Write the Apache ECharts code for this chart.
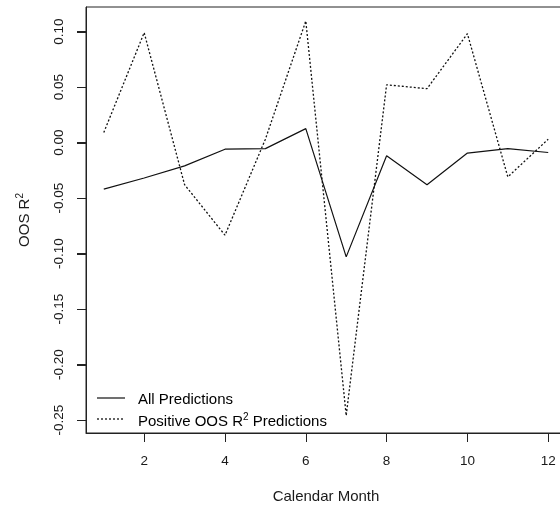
<!DOCTYPE html>
<html>
<head>
<meta charset="utf-8">
<script src="https://cdn.jsdelivr.net/npm/echarts@6/dist/echarts.min.js"></script>
<style>html,body{margin:0;padding:0;background:#fff;}#c{width:560px;height:508px;}</style>
</head>
<body>
<div id="c"></div>
<script>
const months = [1,2,3,4,5,6,7,8,9,10,11,12];
const allPred = [-0.042,-0.032,-0.021,-0.006,-0.0055,0.0125,-0.103,-0.012,-0.038,-0.0095,-0.0055,-0.009];
const posPred = [0.009,0.099,-0.038,-0.0835,0.003,0.1095,-0.246,0.052,0.0485,0.098,-0.031,0.003];
const xTicks = [2,4,6,8,10,12];
const yTicks = [-0.25,-0.20,-0.15,-0.10,-0.05,0.00,0.05,0.10];
const seriesNames = ['All Predictions', 'Positive OOS R2 Predictions'];

const font = 'Liberation Sans, Arial, sans-serif';
const txt = '#1a1a1a';
const rich = {
  sup: { fontSize: 10, verticalAlign: 'top', padding: [0,0,9,0], color: txt, fontFamily: font },
  n: { fontSize: 15, color: txt, fontFamily: font }
};

const chart = echarts.init(document.getElementById('c'), null, {renderer: 'canvas'});
chart.setOption({
  animation: false,
  backgroundColor: '#fff',
  grid: { left: 86, top: 7, width: 480, height: 426, containLabel: false, outerBoundsMode: 'none',
          show: true, borderColor: '#222', borderWidth: 1, backgroundColor: 'transparent' },
  xAxis: {
    type: 'value', min: 0.56, max: 12.44,
    name: 'Calendar Month', nameLocation: 'middle', nameGap: 56,
    nameTextStyle: { fontSize: 15, color: txt, fontFamily: font },
    axisLine: { show: true, onZero: false, lineStyle: {color: '#222', width: 1} },
    splitLine: { show: false },
    axisTick: { show: true, inside: false, length: 9, lineStyle: {color: '#222', width: 1}, customValues: xTicks },
    axisLabel: { fontSize: 13.5, color: txt, fontFamily: font, margin: 21, customValues: xTicks, formatter: v => String(v) }
  },
  yAxis: {
    type: 'value', min: -0.2617, max: 0.1221,
    name: '{n|OOS R}{sup|2}', nameLocation: 'middle', nameGap: 52, nameRotate: 90,
    nameTextStyle: { fontSize: 15, color: txt, fontFamily: font, rich: rich },
    axisLine: { show: true, onZero: false, lineStyle: {color: '#222', width: 1} },
    splitLine: { show: false },
    axisTick: { show: true, inside: false, length: 9, lineStyle: {color: '#222', width: 1}, customValues: yTicks },
    axisLabel: { fontSize: 13.5, color: txt, fontFamily: font, rotate: 90, margin: 20, customValues: yTicks, formatter: v => v.toFixed(2) }
  },
  series: [
    { name: seriesNames[0], type: 'line', data: months.map((m,i)=>[m, allPred[i]]), symbol: 'none',
      lineStyle: { color: '#111', width: 1.2, type: 'solid' } },
    { name: seriesNames[1], type: 'line', data: months.map((m,i)=>[m, posPred[i]]), symbol: 'none',
      lineStyle: { color: '#111', width: 1.3, type: [2,2] } },
    { name: 'yTickMarks', type: 'custom', clip: false, silent: true, z: 10,
      data: yTicks.map(v => [months[0], v]),
      renderItem: function (params, api) {
        const p = api.coord([api.value(0), api.value(1)]);
        const x0 = params.coordSys.x;
        const y = Math.round(p[1]) + 0.5;
        return { type: 'line', shape: {x1: x0 - 9, y1: y, x2: x0, y2: y}, style: {stroke: '#222', lineWidth: 1} };
      }
    }
  ],
  graphic: [
    { type: 'line', shape: {x1: 97, y1: 398, x2: 125, y2: 398}, style: {stroke: '#111', lineWidth: 1.2} },
    { type: 'line', shape: {x1: 97, y1: 419, x2: 125, y2: 419}, style: {stroke: '#111', lineWidth: 1.3, lineDash: [2,2]} },
    { type: 'text', left: 138, top: 392, style: { text: '{n|All Predictions}', rich: rich } },
    { type: 'text', left: 138, top: 412, style: { text: '{n|Positive OOS R}{sup|2}{n| Predictions}', rich: rich } }
  ]
});
</script>
</body>
</html>
